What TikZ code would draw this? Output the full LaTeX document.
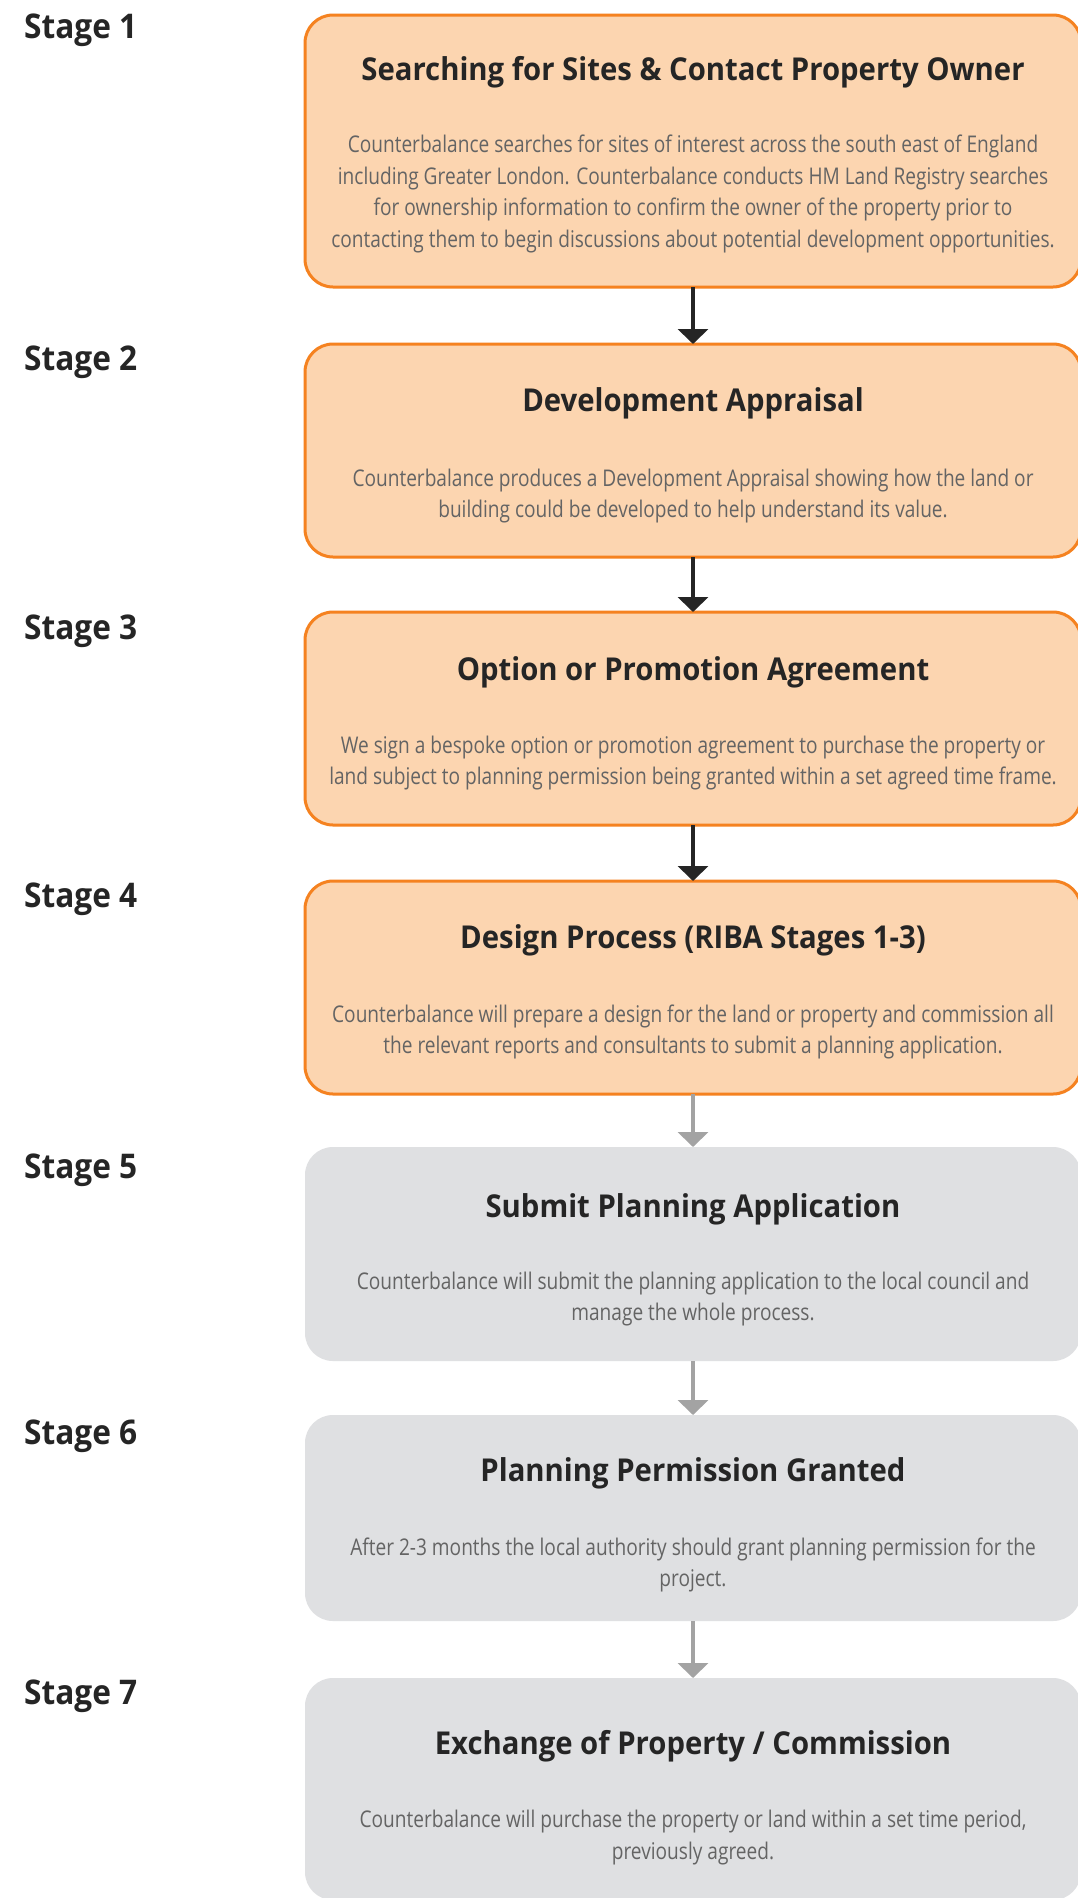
\documentclass[tikz,border=0pt]{standalone}
\usepackage{fontspec}
\setmainfont{Open Sans}
\newfontfamily\bodyf[FakeStretch=0.83]{Open Sans}
\newfontfamily\headf[FakeStretch=0.93]{Open Sans}
\usetikzlibrary{arrows.meta}
\definecolor{ofill}{HTML}{FCD5B0}
\definecolor{ostroke}{HTML}{F58220}
\definecolor{gfill}{HTML}{DFE0E2}
\definecolor{darktxt}{HTML}{252525}
\definecolor{bodytxt}{HTML}{646464}
\definecolor{garrow}{HTML}{A3A3A3}
\begin{document}
\begin{tikzpicture}[x=1pt,y=-1pt,
  obox/.style={draw=ostroke, line width=3pt, fill=ofill, rounded corners=28pt,
    minimum width=776pt, anchor=north west, inner sep=0pt, outer sep=0pt},
  gbox/.style={fill=gfill, rounded corners=28pt,
    minimum width=776pt, anchor=north west, inner sep=0pt, outer sep=0pt},
  ttl/.style={text=darktxt, font=\headf\bfseries\fontsize{31.5}{36}\selectfont, inner sep=0pt},
  bodytext/.style={text=bodytxt, font=\bodyf\fontsize{23}{31.5}\selectfont, align=center, inner sep=0pt},
  stg/.style={text=darktxt, font=\headf\bfseries\fontsize{34}{40}\selectfont, anchor=base west, inner sep=0pt},
  barr/.style={draw=darktxt, line width=4.5pt, -{Triangle[width=30pt,length=15pt]}},
  garr/.style={draw=garrow, line width=4.5pt, -{Triangle[width=30pt,length=15pt]}}
]
\useasboundingbox (0,0) rectangle (1078,1898);
\fill[white] (0,0) rectangle (1078,1898);

% boxes
\node[obox, minimum height=272pt] (b1) at (305,15) {};
\node[obox, minimum height=213pt] (b2) at (305,344) {};
\node[obox, minimum height=213pt] (b3) at (305,612) {};
\node[obox, minimum height=213pt] (b4) at (305,881) {};
\node[gbox, minimum height=214pt] (b5) at (305,1147) {};
\node[gbox, minimum height=206pt] (b6) at (305,1415) {};
\node[gbox, minimum height=222pt] (b7) at (305,1678) {};

% connectors
\draw[barr] (b1.south) -- (b2.north);
\draw[barr] (b2.south) -- (b3.north);
\draw[barr] (b3.south) -- (b4.north);
\draw[garr] (b4.south) -- (b5.north);
\draw[garr] (b5.south) -- (b6.north);
\draw[garr] (b6.south) -- (b7.north);

% stage labels
\node[stg] (s1) at (24,38) {Stage 1};
\node[stg] (s2) at (24,370) {Stage 2};
\node[stg] (s3) at (24,639) {Stage 3};
\node[stg] (s4) at (24,907) {Stage 4};
\node[stg] (s5) at (24,1178) {Stage 5};
\node[stg] (s6) at (24,1444) {Stage 6};
\node[stg] (s7) at (24,1704) {Stage 7};

% titles
\node[ttl] (t1) at (693,72) {Searching for Sites \& Contact Property Owner};
\node[ttl] (t2) at (693,403) {Development Appraisal};
\node[ttl] (t3) at (693,672) {Option or Promotion Agreement};
\node[ttl] (t4) at (693,940) {Design Process (RIBA Stages 1-3)};
\node[ttl] (t5) at (693,1209) {Submit Planning Application};
\node[ttl] (t6) at (693,1473) {Planning Permission Granted};
\node[ttl] (t7) at (693,1746) {Exchange of Property / Commission};

% descriptions
\node[bodytext] (d1) at (693,194) {Counterbalance searches for sites of interest across the south east of England\\
including Greater London. Counterbalance conducts HM Land Registry searches\\
for ownership information to confirm the owner of the property prior to\\
contacting them to begin discussions about potential development opportunities.};
\node[bodytext] (d2) at (693,496) {Counterbalance produces a Development Appraisal showing how the land or\\
building could be developed to help understand its value.};
\node[bodytext] (d3) at (693,763) {We sign a bespoke option or promotion agreement to purchase the property or\\
land subject to planning permission being granted within a set agreed time frame.};
\node[bodytext] (d4) at (693,1032) {Counterbalance will prepare a design for the land or property and commission all\\
the relevant reports and consultants to submit a planning application.};
\node[bodytext] (d5) at (693,1299) {Counterbalance will submit the planning application to the local council and\\
manage the whole process.};
\node[bodytext] (d6) at (693,1565) {After 2-3 months the local authority should grant planning permission for the\\
project.};
\node[bodytext] (d7) at (693,1837.5) {Counterbalance will purchase the property or land within a set time period,\\
previously agreed.};
\end{tikzpicture}
\end{document}
